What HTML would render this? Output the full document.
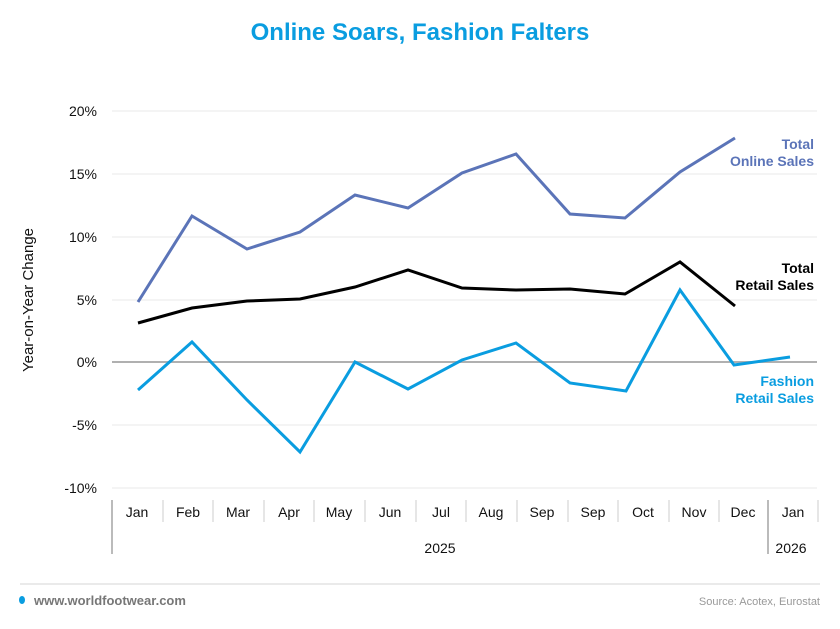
<!DOCTYPE html>
<html><head><style>
body{margin:0;background:#fff;width:840px;height:624px;overflow:hidden;font-family:"Liberation Sans",sans-serif}
</style></head><body>
<svg width="840" height="624" xmlns="http://www.w3.org/2000/svg" font-family="Liberation Sans, sans-serif">
<text x="420" y="40" text-anchor="middle" font-size="24" font-weight="bold" fill="#0a9de0">Online Soars, Fashion Falters</text>
<g stroke="#e8e8e8" stroke-width="1">
<line x1="112" x2="817" y1="111" y2="111"/><line x1="112" x2="817" y1="174" y2="174"/>
<line x1="112" x2="817" y1="237" y2="237"/><line x1="112" x2="817" y1="300" y2="300"/>
<line x1="112" x2="817" y1="425" y2="425"/><line x1="112" x2="817" y1="488" y2="488"/>
</g>
<line x1="112" x2="817" y1="362" y2="362" stroke="#b0b0b0" stroke-width="2"/>
<g font-size="14" fill="#111" text-anchor="end">
<text x="97" y="116">20%</text><text x="97" y="179">15%</text><text x="97" y="242">10%</text>
<text x="97" y="305">5%</text><text x="97" y="367">0%</text><text x="97" y="430">-5%</text><text x="97" y="493">-10%</text>
</g>
<text transform="translate(33,300) rotate(-90)" text-anchor="middle" font-size="15" fill="#111">Year-on-Year Change</text>
<g stroke="#ccc" stroke-width="1">
<line x1="163" x2="163" y1="500" y2="522"/><line x1="213" x2="213" y1="500" y2="522"/><line x1="264" x2="264" y1="500" y2="522"/>
<line x1="314" x2="314" y1="500" y2="522"/><line x1="365" x2="365" y1="500" y2="522"/><line x1="416" x2="416" y1="500" y2="522"/>
<line x1="466" x2="466" y1="500" y2="522"/><line x1="517" x2="517" y1="500" y2="522"/><line x1="568" x2="568" y1="500" y2="522"/>
<line x1="618" x2="618" y1="500" y2="522"/><line x1="669" x2="669" y1="500" y2="522"/><line x1="719" x2="719" y1="500" y2="522"/>
<line x1="818" x2="818" y1="500" y2="522"/>
</g>
<g stroke="#777" stroke-width="1"><line x1="112" x2="112" y1="500" y2="554"/><line x1="768" x2="768" y1="500" y2="554"/></g>
<g font-size="14" fill="#111" text-anchor="middle">
<text x="137" y="517">Jan</text><text x="188" y="517">Feb</text><text x="238" y="517">Mar</text><text x="289" y="517">Apr</text>
<text x="339" y="517">May</text><text x="390" y="517">Jun</text><text x="441" y="517">Jul</text><text x="491" y="517">Aug</text>
<text x="542" y="517">Sep</text><text x="593" y="517">Sep</text><text x="643" y="517">Oct</text><text x="694" y="517">Nov</text>
<text x="743" y="517">Dec</text><text x="793" y="517">Jan</text>
<text x="440" y="553">2025</text><text x="791" y="553">2026</text>
</g>
<polyline fill="none" stroke="#5b74b8" stroke-width="3" stroke-linejoin="miter" points="138,302 192,216 247,249 300,232 355,195 408,208 462,173 516,154 570,214 625,218 680,172 735,138"/>
<polyline fill="none" stroke="#000" stroke-width="3" points="138,323 192,308 247,301 300,299 355,287 408,270 462,288 516,290 570,289 625,294 680,262 735,306"/>
<polyline fill="none" stroke="#0a9de0" stroke-width="3" points="138,390 192,342 247,400 300,452 355,362 408,389 462,360 516,343 570,383 626,391 680,290 734,365 790,357"/>
<g font-size="14" font-weight="bold" text-anchor="end">
<text x="814" y="149" fill="#5b74b8">Total</text><text x="814" y="166" fill="#5b74b8">Online Sales</text>
<text x="814" y="273" fill="#000">Total</text><text x="814" y="290" fill="#000">Retail Sales</text>
<text x="814" y="386" fill="#0a9de0">Fashion</text><text x="814" y="403" fill="#0a9de0">Retail Sales</text>
</g>
<line x1="20" x2="820" y1="584" y2="584" stroke="#d5d5d5" stroke-width="1"/>
<ellipse cx="22" cy="600" rx="3" ry="4" fill="#0a9de0"/>
<text x="34" y="605" font-size="13" font-weight="bold" fill="#777">www.worldfootwear.com</text>
<text x="820" y="605" font-size="11" fill="#999" text-anchor="end">Source: Acotex, Eurostat</text>
</svg>
</body></html>
